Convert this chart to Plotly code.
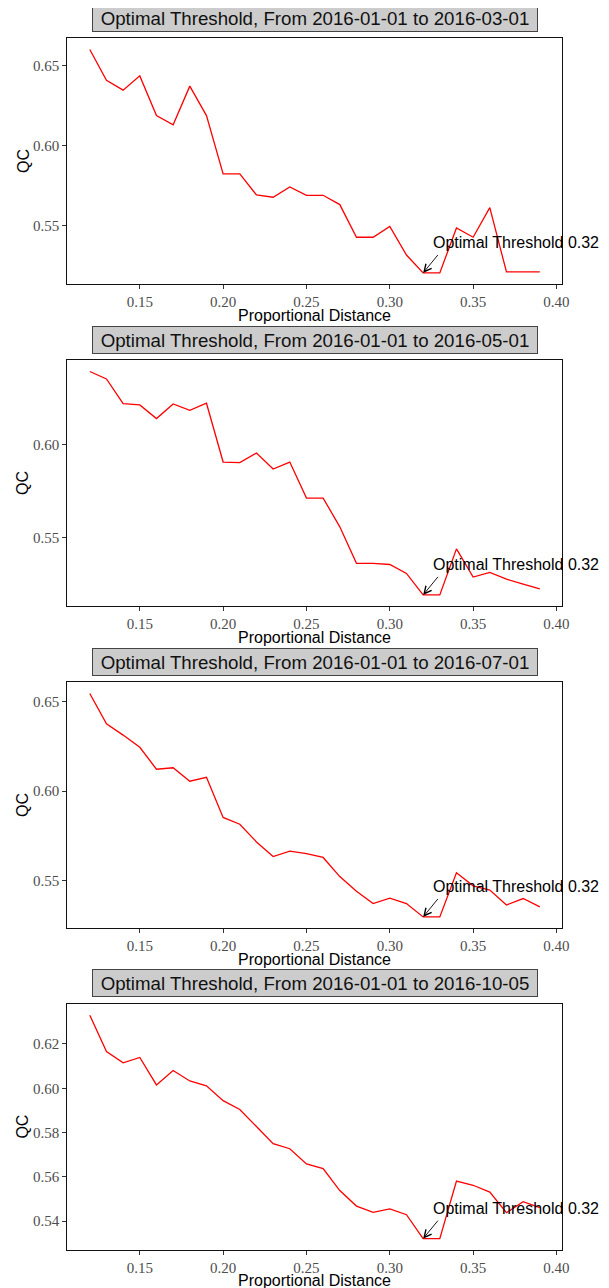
import plotly.graph_objects as go

# the page body has an 8px margin, so the figure is drawn 8px in from the window edge
OFF = 8
W, H = 609 - OFF, 1288 - OFF

distance = [0.12, 0.13, 0.14, 0.15, 0.16, 0.17, 0.18, 0.19, 0.20, 0.21, 0.22, 0.23, 0.24, 0.25,
            0.26, 0.27, 0.28, 0.29, 0.30, 0.31, 0.32, 0.33, 0.34, 0.35, 0.36, 0.37, 0.38, 0.39]

qc_0301 = [0.6600, 0.6408, 0.6346, 0.6435, 0.6187, 0.6129, 0.6371, 0.6187, 0.5823, 0.5823,
           0.5691, 0.5677, 0.5741, 0.5689, 0.5689, 0.5631, 0.5427, 0.5427, 0.5494, 0.5316,
           0.5204, 0.5204, 0.5485, 0.5427, 0.5612, 0.5210, 0.5210, 0.5210]

qc_0501 = [0.6396, 0.6356, 0.6223, 0.6216, 0.6142, 0.6221, 0.6187, 0.6225, 0.5908, 0.5905,
           0.5957, 0.5870, 0.5908, 0.5714, 0.5714, 0.5559, 0.5362, 0.5362, 0.5356, 0.5308,
           0.5192, 0.5192, 0.5440, 0.5288, 0.5313, 0.5277, 0.5250, 0.5225]

qc_0701 = [0.6547, 0.6377, 0.6314, 0.6246, 0.6123, 0.6131, 0.6056, 0.6078, 0.5853, 0.5815,
           0.5716, 0.5634, 0.5664, 0.5651, 0.5629, 0.5522, 0.5440, 0.5371, 0.5401, 0.5371,
           0.5296, 0.5296, 0.5543, 0.5470, 0.5446, 0.5363, 0.5399, 0.5352]

qc_1005 = [0.6330, 0.6166, 0.6115, 0.6139, 0.6015, 0.6080, 0.6033, 0.6011, 0.5944, 0.5904,
           0.5827, 0.5750, 0.5727, 0.5658, 0.5637, 0.5538, 0.5468, 0.5440, 0.5455, 0.5429,
           0.5321, 0.5321, 0.5581, 0.5562, 0.5531, 0.5438, 0.5488, 0.5461]

end_dates = ["2016-03-01", "2016-05-01", "2016-07-01", "2016-10-05"]
series = [qc_0301, qc_0501, qc_0701, qc_1005]
y_dticks = [0.05, 0.05, 0.05, 0.02]
optimal = 0.32
x_ticks = [0.15, 0.20, 0.25, 0.30, 0.35, 0.40]

# layout in window pixels
plot_left, plot_right = 67.3, 562.3
panel_tops = [38.3, 360.3, 682.3, 1004.0]
panel_h = 245.8

def py(p):
    return 1 - (p - OFF) / H

def pxx(p):
    return (p - OFF) / W

fig = go.Figure()
annotations = []

def padded(lo, hi, f=0.05):
    r = hi - lo
    return [lo - f * r, hi + f * r]

xr = padded(min(distance), max(distance))

for i, (vals, end, dt) in enumerate(zip(series, end_dates, y_dticks)):
    n = i + 1
    xa = "x" if n == 1 else f"x{n}"
    ya = "y" if n == 1 else f"y{n}"
    fig.add_trace(go.Scatter(x=distance, y=vals, mode="lines",
                             line=dict(color="#ff0000", width=1.3),
                             xaxis=xa, yaxis=ya, showlegend=False))
    top = panel_tops[i]
    bot = top + panel_h
    axis_common = dict(showline=True, mirror=True, linecolor="#111111", linewidth=1,
                       ticks="outside", ticklen=4, tickcolor="#333333", tickwidth=1,
                       showgrid=False, zeroline=False, automargin=False,
                       tickfont=dict(family="Liberation Serif", size=15, color="#4d4d4d"),
                       tickformat=".2f")
    fig.layout[f"xaxis{n if n > 1 else ''}"] = dict(
        domain=[pxx(plot_left), pxx(plot_right)], anchor=ya, range=xr,
        tickvals=x_ticks, **axis_common)
    fig.layout[f"yaxis{n if n > 1 else ''}"] = dict(
        domain=[py(bot), py(top)], anchor=xa, range=padded(min(vals), max(vals)),
        dtick=dt, tick0=0, **axis_common)

    vmin = min(vals)
    # arrow
    annotations.append(dict(x=optimal, y=vmin, xref=xa, yref=ya, text="",
                            showarrow=True, ax=16, ay=-19.5, arrowhead=5, arrowsize=1.6,
                            arrowwidth=0.9, arrowcolor="#000000", standoff=0))
    # label
    annotations.append(dict(x=optimal, y=vmin, xref=xa, yref=ya,
                            text=f"Optimal Threshold {optimal:.2f}", showarrow=False,
                            xanchor="left", yanchor="middle", xshift=8, yshift=30,
                            font=dict(family="Liberation Sans", size=16, color="#000000")))
    # x title
    annotations.append(dict(x=(pxx(plot_left) + pxx(plot_right)) / 2, y=py(bot + 31),
                            xref="paper", yref="paper", text="Proportional Distance",
                            showarrow=False, xanchor="center", yanchor="middle",
                            font=dict(family="Liberation Sans", size=16, color="#000000")))
    # y title
    annotations.append(dict(x=pxx(22.7), y=py((top + bot) / 2), xref="paper", yref="paper",
                            text="QC", textangle=-90, showarrow=False,
                            xanchor="center", yanchor="middle",
                            font=dict(family="Liberation Sans", size=16, color="#000000")))

for i, end in enumerate(end_dates):
    top = panel_tops[i]
    annotations.append(dict(x=(pxx(plot_left) + pxx(plot_right)) / 2, y=py(top - 20.7),
                            xref="paper", yref="paper",
                            text=f"Optimal Threshold, From 2016-01-01 to {end}",
                            showarrow=False, xanchor="center", yanchor="middle",
                            width=442, height=24, borderpad=1, borderwidth=1,
                            bgcolor="#cccccc", bordercolor="#444444",
                            font=dict(family="Liberation Sans", size=18.7, color="#111111")))

fig.update_layout(width=W, height=H, margin=dict(l=0, r=0, t=0, b=0, autoexpand=False),
                  template="none",
                  paper_bgcolor="#ffffff", plot_bgcolor="#ffffff",
                  annotations=annotations, showlegend=False)

fig.write_html("out.html")
